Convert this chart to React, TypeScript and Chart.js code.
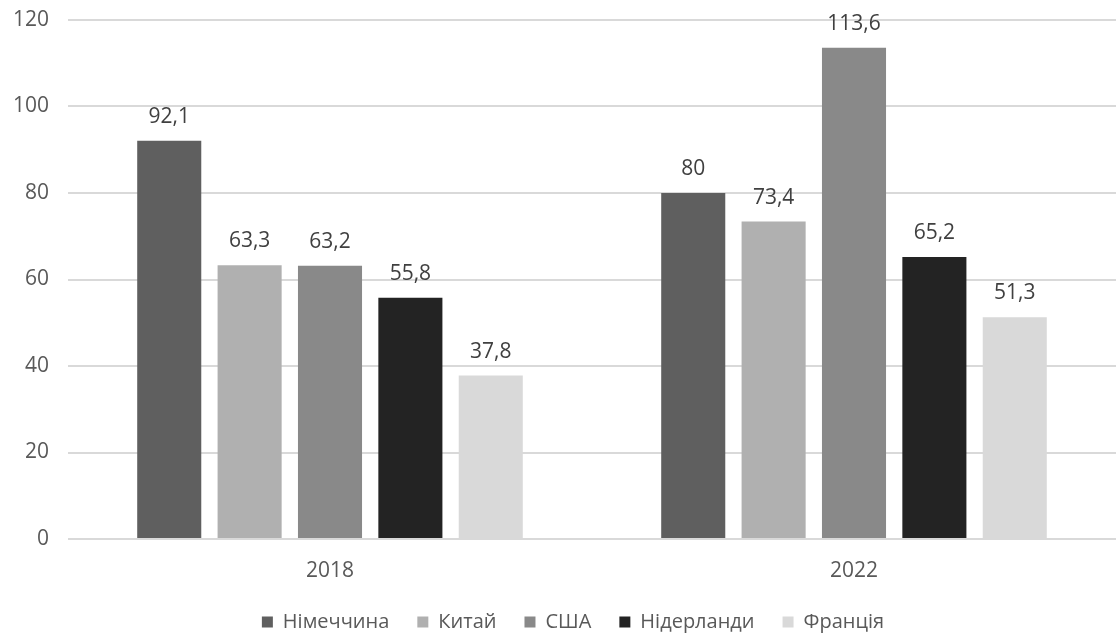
import React, { useEffect, useRef } from "react";
import { Chart, registerables } from "chart.js";

Chart.register(...registerables);

const FONT = "'Open Sans', 'Noto Sans', sans-serif";

const years = ["2018", "2022"];
const seriesNames = ["Німеччина", "Китай", "США", "Нідерланди", "Франція"];
const germany = [92.1, 80];
const china = [63.3, 73.4];
const usa = [63.2, 113.6];
const netherlands = [55.8, 65.2];
const france = [37.8, 51.3];
const seriesColors = ["#5f5f5f", "#b0b0b0", "#898989", "#232323", "#d9d9d9"];
const yMin = 0;
const yMax = 120;
const yStep = 20;

const W = 1116;
const H = 637;
const PLOT_TOP = 20;
const PLOT_BOTTOM = 539;
const LEGEND_PAD = 28;
const LEGEND_FONT = 20;
const TEXT_FONT = 21;

const valueLabels = {
  id: "valueLabels",
  afterDatasetsDraw(chart: any) {
    const ctx = chart.ctx;
    ctx.save();
    ctx.font = `${TEXT_FONT}px ${FONT}`;
    ctx.fillStyle = "#404040";
    ctx.textAlign = "center";
    ctx.textBaseline = "alphabetic";
    chart.data.datasets.forEach((ds: any, i: number) => {
      const meta = chart.getDatasetMeta(i);
      meta.data.forEach((bar: any, j: number) => {
        const v = ds.data[j];
        ctx.fillText(String(v).replace(".", ","), bar.x, bar.y - 18);
      });
    });
    ctx.restore();
  },
};

const legendPlacer = {
  id: "legendPlacer",
  afterLayout(chart: any) {
    const lg = chart.legend;
    if (!lg) return;
    const dx = 15;
    lg.left += dx;
    lg.right += dx;
    const itemH = LEGEND_FONT * 1.2;
    const targetTop = 624 - LEGEND_PAD - itemH / 2;
    const dy = targetTop - lg.top;
    lg.top += dy;
    lg.bottom += dy;
  },
};

export default function App() {
  const ref = useRef<HTMLCanvasElement | null>(null);

  useEffect(() => {
    if (!ref.current) return;
    const values = [germany, china, usa, netherlands, france];
    const chart = new Chart(ref.current, {
      type: "bar",
      data: {
        labels: years,
        datasets: seriesNames.map((name, i) => ({
          label: name,
          data: values[i],
          backgroundColor: seriesColors[i],
          borderWidth: 0,
          categoryPercentage: 0.767,
          barPercentage: 0.797,
        })),
      },
      options: {
        responsive: false,
        animation: false,
        layout: { padding: { top: PLOT_TOP, right: 0, left: 0, bottom: 0 } },
        plugins: {
          tooltip: { enabled: false },
          legend: {
            position: "bottom",
            labels: {
              boxWidth: 11,
              boxHeight: 11,
              padding: LEGEND_PAD,
              color: "#595959",
              font: { size: LEGEND_FONT, family: FONT },
            },
          },
        },
        scales: {
          x: {
            grid: { display: false, drawTicks: false },
            border: { display: false },
            ticks: {
              color: "#595959",
              font: { size: TEXT_FONT, family: FONT },
              padding: 19,
            },
            afterFit(scale: any) {
              const lgH = scale.chart.legend ? scale.chart.legend.height : 0;
              scale.height = H - PLOT_BOTTOM - lgH;
              scale.paddingLeft = 0;
              scale.paddingRight = 0;
            },
          },
          y: {
            min: yMin,
            max: yMax,
            ticks: {
              stepSize: yStep,
              color: "#595959",
              font: { size: TEXT_FONT, family: FONT },
              padding: 19,
            },
            grid: { color: "#d9d9d9", lineWidth: 2, drawTicks: false },
            border: { display: false },
            afterFit(scale: any) {
              scale.width = 68;
              scale.paddingTop = 0;
              scale.paddingBottom = 0;
            },
          },
        },
      },
      plugins: [valueLabels, legendPlacer],
    } as any);
    return () => chart.destroy();
  }, []);

  return (
    <div style={{ position: "absolute", left: 0, top: 0, width: W, height: H, background: "#fff" }}>
      <canvas ref={ref} width={W} height={H} />
    </div>
  );
}
